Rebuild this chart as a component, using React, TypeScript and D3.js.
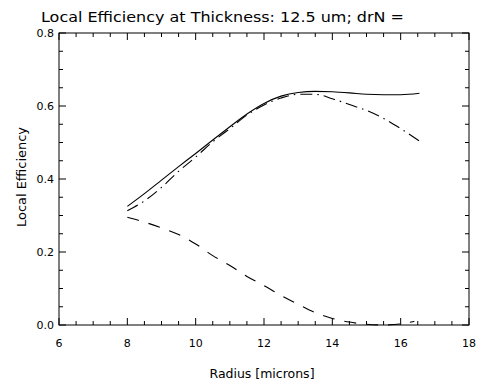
import React from "react";
import * as d3 from "d3";

const radius = [8.0, 8.5, 9.0, 9.5, 10.0, 10.5, 11.0, 11.5, 12.0, 12.5, 13.0, 13.5, 14.0, 14.5, 15.0, 15.5, 16.0, 16.55];
const solidEff = [0.325, 0.36, 0.397, 0.434, 0.47, 0.507, 0.543, 0.578, 0.607, 0.627, 0.637, 0.64, 0.639, 0.636, 0.632, 0.631, 0.631, 0.635];
const dashDotEff = [0.313, 0.34, 0.377, 0.421, 0.46, 0.502, 0.538, 0.575, 0.603, 0.622, 0.632, 0.632, 0.62, 0.604, 0.588, 0.566, 0.538, 0.504];
const dashedRadius = [8.0, 8.5, 9.0, 9.5, 10.0, 10.5, 11.0, 11.5, 12.0, 12.5, 13.0, 13.5, 14.0, 14.5, 15.0, 15.5, 16.0, 16.4];
const dashedEff = [0.295, 0.282, 0.266, 0.248, 0.222, 0.19, 0.163, 0.133, 0.108, 0.081, 0.057, 0.034, 0.018, 0.008, 0.002, 0.0, 0.003, 0.01];

const xMajor = [6, 8, 10, 12, 14, 16, 18];
const yMajor = [0.0, 0.2, 0.4, 0.6, 0.8];

const title = "Local Efficiency at Thickness: 12.5 um; drN =";
const xLabel = "Radius [microns]";
const yLabel = "Local Efficiency";

export default function App() {
  const W = 477, H = 384;
  const left = 59, right = 469, top = 33, bottom = 325;
  const x = d3.scaleLinear().domain([6, 18]).range([left, right]);
  const y = d3.scaleLinear().domain([0, 0.8]).range([bottom, top]);
  const font = "'DejaVu Sans', sans-serif";

  const line = d3.line<[number, number]>().x(d => x(d[0])).y(d => y(d[1])).curve(d3.curveMonotoneX);
  const solid = line(radius.map((r, i) => [r, solidEff[i]] as [number, number]));
  const dashDot = line(radius.map((r, i) => [r, dashDotEff[i]] as [number, number]));
  const dashed = line(dashedRadius.map((r, i) => [r, dashedEff[i]] as [number, number]));

  const xMinor = d3.range(6, 18.0001, 0.5);
  const yMinor = d3.range(0, 0.8001, 0.05);
  const isMajorX = (v: number) => Math.abs(v / 2 - Math.round(v / 2)) < 1e-6;
  const isMajorY = (v: number) => Math.abs(v / 0.2 - Math.round(v / 0.2)) < 1e-6;

  return (
    <svg width={W} height={H} style={{ position: "absolute", left: 0, top: 0, background: "#fff" }}>
      <rect x={0} y={0} width={W} height={H} fill="#fff" />
      <text x={41} y={22} fontFamily={font} fontSize={14.5} textLength={363} lengthAdjust="spacingAndGlyphs" fill="#000">{title}</text>
      <rect x={left} y={top} width={right - left} height={bottom - top} fill="none" stroke="#000" strokeWidth={1} />
      {xMinor.map((v, i) => {
        const len = isMajorX(v) ? 7 : 4;
        return (
          <g key={"xt" + i}>
            <line x1={x(v)} x2={x(v)} y1={bottom} y2={bottom - len} stroke="#000" strokeWidth={1} />
            <line x1={x(v)} x2={x(v)} y1={top} y2={top + len} stroke="#000" strokeWidth={1} />
          </g>
        );
      })}
      {yMinor.map((v, i) => {
        const len = isMajorY(v) ? 7 : 4;
        return (
          <g key={"yt" + i}>
            <line x1={left} x2={left + len} y1={y(v)} y2={y(v)} stroke="#000" strokeWidth={1} />
            <line x1={right} x2={right - len} y1={y(v)} y2={y(v)} stroke="#000" strokeWidth={1} />
          </g>
        );
      })}
      {xMajor.map(v => (
        <text key={"xl" + v} x={x(v)} y={347} textAnchor="middle" fontFamily={font} fontSize={11} fill="#000">{v}</text>
      ))}
      {yMajor.map(v => (
        <text key={"yl" + v} x={54} y={y(v) + 4} textAnchor="end" fontFamily={font} fontSize={11} fill="#000">{v.toFixed(1)}</text>
      ))}
      <text x={262} y={378} textAnchor="middle" fontFamily={font} fontSize={12} textLength={105} lengthAdjust="spacingAndGlyphs" fill="#000">{xLabel}</text>
      <text transform={`translate(26,177) rotate(-90)`} textAnchor="middle" fontFamily={font} fontSize={12} textLength={100} lengthAdjust="spacingAndGlyphs" fill="#000">{yLabel}</text>
      <path d={solid || ""} fill="none" stroke="#000" strokeWidth={1.1} />
      <path d={dashDot || ""} fill="none" stroke="#000" strokeWidth={1.1} strokeDasharray="12,5,1.5,5" />
      <path d={dashed || ""} fill="none" stroke="#000" strokeWidth={1.1} strokeDasharray="12,10" />
    </svg>
  );
}
